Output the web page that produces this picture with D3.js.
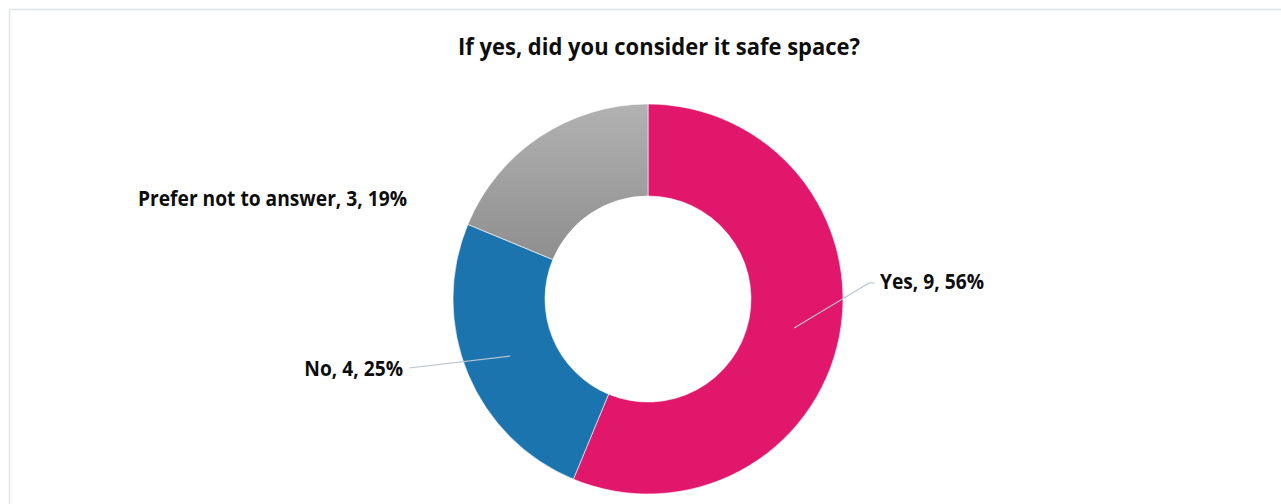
<!DOCTYPE html>
<html>
<head>
<meta charset="utf-8">
<script src="https://cdn.jsdelivr.net/npm/d3@7"></script>
<style>
  html, body { margin: 0; padding: 0; background: #fff; }
  svg { display: block; }
</style>
</head>
<body>
<svg id="chart" width="1281" height="504"></svg>
<script>
// Survey answers
const categories = ["Yes", "No", "Prefer not to answer"];
const counts = [9, 4, 3];
const percentLabels = ["56%", "25%", "19%"];
const title = "If yes, did you consider it safe space?";

const W = 1281, H = 504;
const cx = 648, cy = 299;
const outerR = 195, innerR = 103;
const fontFamily = "'Open Sans', Lato, 'Liberation Sans', sans-serif";

const svg = d3.select("#chart");

// Chart area frame
svg.append("rect")
  .attr("x", 9.5).attr("y", 9.5)
  .attr("width", W + 20).attr("height", H + 20)
  .attr("fill", "#fff")
  .attr("stroke", "#dfe3ea")
  .attr("stroke-width", 1.5);

// Gradient for the grey slice
const defs = svg.append("defs");
const grad = defs.append("linearGradient")
  .attr("id", "greyFill")
  .attr("x1", 0).attr("y1", 0).attr("x2", 0).attr("y2", 1);
grad.append("stop").attr("offset", "0%").attr("stop-color", "#b2b2b2");
grad.append("stop").attr("offset", "100%").attr("stop-color", "#8e8e8e");

const fills = ["#e0176a", "#1b74ad", "url(#greyFill)"];

const pie = d3.pie().sort(null).value(d => d.value);
const arc = d3.arc().innerRadius(innerR).outerRadius(outerR);

const data = categories.map((c, i) => ({ name: c, value: counts[i], pct: percentLabels[i] }));
const arcs = pie(data);

const g = svg.append("g").attr("transform", `translate(${cx},${cy})`);
g.selectAll("path.slice")
  .data(arcs)
  .enter().append("path")
  .attr("class", "slice")
  .attr("d", arc)
  .attr("fill", (d, i) => fills[i])
  .attr("stroke", "#ffffff")
  .attr("stroke-width", 0.6);

// Condense a text element horizontally by a factor
function condense(sel, factor) {
  const w = sel.node().getComputedTextLength();
  sel.attr("textLength", w * factor).attr("lengthAdjust", "spacingAndGlyphs");
}

// Title
const titleText = svg.append("text")
  .attr("x", 659).attr("y", 55)
  .attr("text-anchor", "middle")
  .attr("font-family", fontFamily)
  .attr("font-weight", "bold")
  .attr("font-size", 23)
  .attr("fill", "#0d0d0d")
  .text(title);
condense(titleText, 402 / titleText.node().getComputedTextLength());

// Data labels: position of each label relative to its slice
const labelLayout = [
  { x: 880, y: 288.5, anchor: "start", leader: [[875, 283], [869, 283]] },
  { x: 403, y: 375.5, anchor: "end", leader: [[409, 368]] },
  { x: 407, y: 206, anchor: "end", leader: null }
];

const labelStr = d => `${d.data.name}, ${d.data.value}, ${d.data.pct}`;
const labelSize = 20.5;

// Common horizontal factor taken from the longest label
const probe = svg.append("text")
  .attr("font-family", fontFamily).attr("font-weight", "bold")
  .attr("font-size", labelSize).text(labelStr(arcs[2]));
const labelFactor = 269 / probe.node().getComputedTextLength();
probe.remove();

const lineGen = d3.line();
arcs.forEach((d, i) => {
  const L = labelLayout[i];
  if (L.leader) {
    const c = arc.centroid(d);
    const pts = L.leader.map(p => p.slice()).concat([[cx + c[0], cy + c[1]]]);
    svg.append("path")
      .attr("d", lineGen(pts))
      .attr("fill", "none")
      .attr("stroke", "#b7c2d1")
      .attr("stroke-width", 1.2);
  }
  const t = svg.append("text")
    .attr("x", L.x).attr("y", L.y)
    .attr("text-anchor", L.anchor)
    .attr("font-family", fontFamily)
    .attr("font-weight", "bold")
    .attr("font-size", labelSize)
    .attr("fill", "#0d0d0d")
    .text(labelStr(d));
  condense(t, labelFactor);
});
</script>
</body>
</html>
